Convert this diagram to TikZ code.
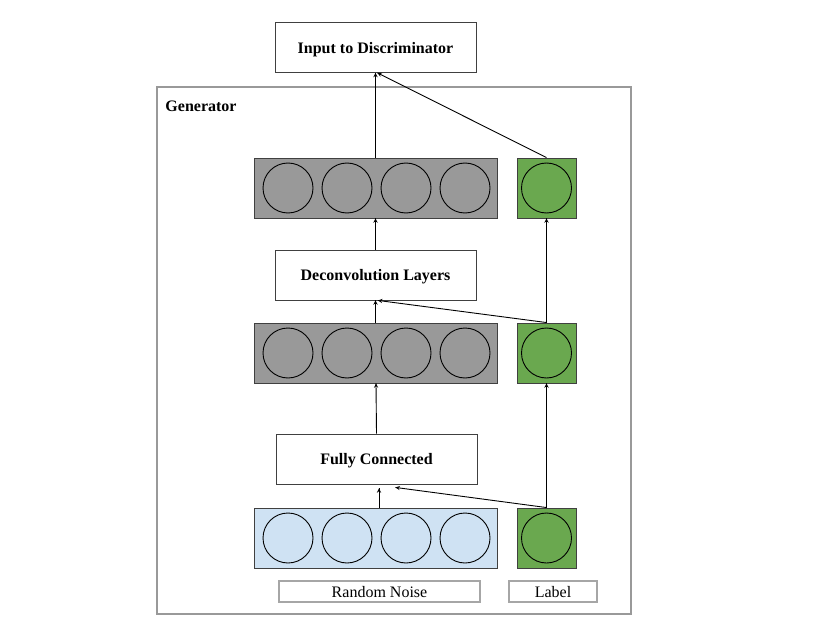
\documentclass[tikz,border=0pt]{standalone}
\usepackage{fontspec}
\setmainfont{Liberation Serif}
\usetikzlibrary{decorations.markings}
\definecolor{bargray}{HTML}{999999}
\definecolor{labgreen}{HTML}{6AA84F}
\definecolor{noiseblue}{HTML}{CFE2F3}
\tikzset{feed/.style = {decoration={markings, mark=at position 1 with {\arrow[scale=1]{stealth}}}, postaction={decorate}}}
\tikzset{block/.style = {draw = black!75, fill = white, minimum width = 201pt, minimum height = 50pt, text depth = 0pt, font = \fontsize{16}{19}\selectfont\bfseries}}
\tikzset{bar/.style = {draw = black!75, minimum width = 243pt, minimum height = 60pt}}
\tikzset{lab/.style = {draw = black!75, fill = labgreen, minimum width = 59pt, minimum height = 60pt}}
\tikzset{tag/.style = {draw = black!35, line width = 1.6pt, minimum height = 21pt, inner sep = 0, text depth = 0pt, font = \fontsize{16}{19}\selectfont}}

\begin{document}
\begin{tikzpicture}[x = 1pt, y = -1pt, line width = 0.9pt]
    \useasboundingbox (0,0) rectangle (830,623);
    \draw [bargray, line width = 1.6pt] (157,87) rectangle (631,614);
    \node [anchor = west, inner sep = 0, font = \fontsize{16}{19}\selectfont\bfseries] (gen) at (165,106) {Generator};
    \node [block] (disc) at (375.5,47.5) {Input to Discriminator};
    \node [block] (deconv) at (375.5,275) {Deconvolution Layers};
    \node [block] (fc) at (376.5,459) {Fully Connected};
    \node [bar, fill = bargray] (top) at (375.5,188) {};
    \node [bar, fill = bargray] (mid) at (375.5,353) {};
    \node [bar, fill = noiseblue] (noise) at (375.5,538) {};
    \node [lab] (lab3) at (546.5,188) {};
    \node [lab] (lab2) at (546.5,353) {};
    \node [lab] (lab1) at (546.5,538) {};
    \foreach \y in {188, 353, 538} {
        \foreach \i in {0,...,3}
            \draw (288 + 59*\i, \y) circle [radius = 25pt];
        \draw (546.5, \y) circle [radius = 25pt];
    }
    \node [tag, minimum width = 201pt] (noisetag) at (379.5,591.5) {Random Noise};
    \node [tag, minimum width = 88pt] (labtag) at (553,591.5) {Label};
    \draw [feed] ([xshift = 3.5pt]noise.north) -- ([xshift = 2.5pt, yshift = -4pt]fc.south);
    \draw [feed] (lab1.north) -- ([xshift = 19pt, yshift = -3pt]fc.south);
    \draw [feed] (lab1.north) -- (lab2.south);
    \draw [feed] (fc.north) -- ([xshift = 0.5pt]mid.south);
    \draw [feed] (mid.north) -- (deconv.south);
    \draw [feed] (lab2.north) -- ([xshift = 2.5pt]deconv.south);
    \draw [feed] (lab2.north) -- (lab3.south);
    \draw [feed] (deconv.north) -- (top.south);
    \draw [feed] (top.north) -- (disc.south);
    \draw [feed] (lab3.north) -- ([xshift = 2pt]disc.south);
\end{tikzpicture}
\end{document}
